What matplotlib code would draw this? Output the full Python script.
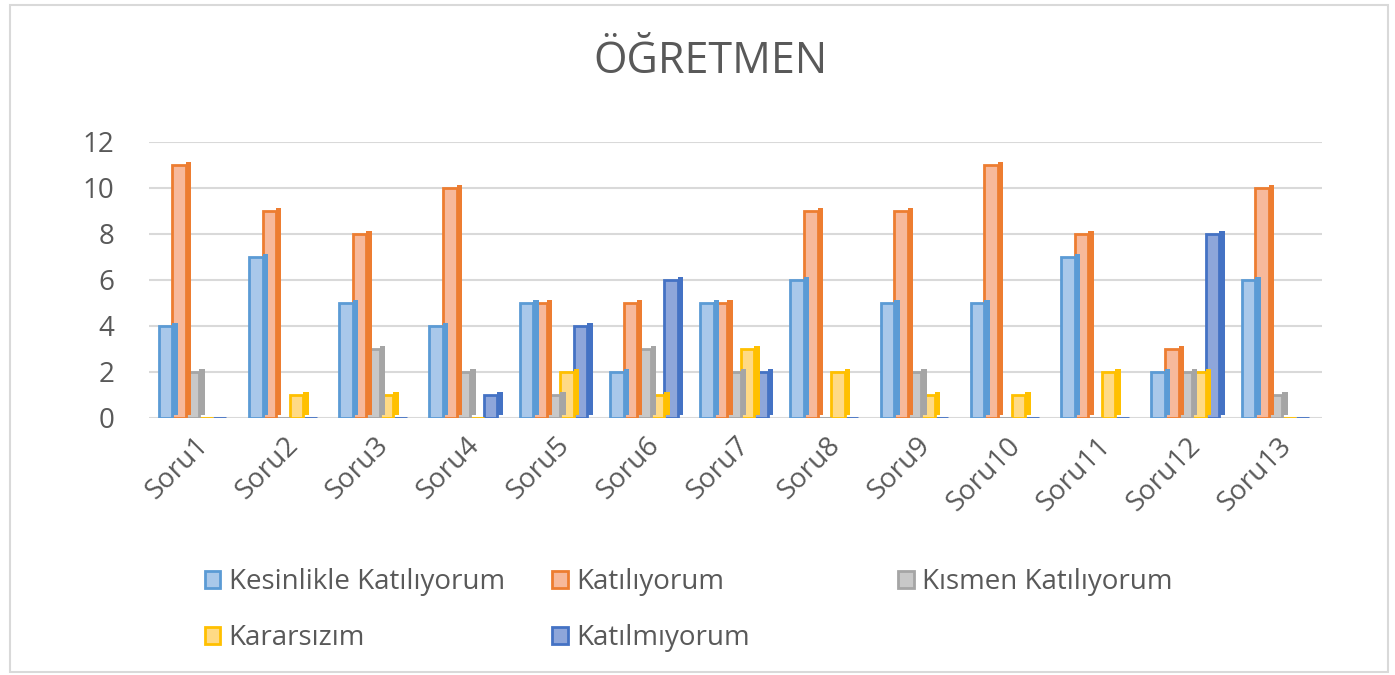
import matplotlib
matplotlib.use("Agg")
import matplotlib.pyplot as plt
from matplotlib.patches import Patch, Rectangle
import numpy as np

plt.rcParams['font.family'] = ['Open Sans', 'DejaVu Sans']

# data
questions = ["Soru1", "Soru2", "Soru3", "Soru4", "Soru5", "Soru6", "Soru7",
             "Soru8", "Soru9", "Soru10", "Soru11", "Soru12", "Soru13"]
series_names = ["Kesinlikle Katılıyorum", "Katılıyorum", "Kısmen Katılıyorum",
                "Kararsızım", "Katılmıyorum"]
kesinlikle = [4, 7, 5, 4, 5, 2, 5, 6, 5, 5, 7, 2, 6]
katiliyorum = [11, 9, 8, 10, 5, 5, 5, 9, 9, 11, 8, 3, 10]
kismen = [2, 0, 3, 2, 1, 3, 2, 0, 2, 0, 0, 2, 1]
kararsizim = [0, 1, 1, 0, 2, 1, 3, 2, 1, 1, 2, 2, 0]
katilmiyorum = [0, 0, 0, 1, 4, 6, 2, 0, 0, 0, 0, 8, 0]
all_series = [kesinlikle, katiliyorum, kismen, kararsizim, katilmiyorum]

face_colors = ["#A9C8EA", "#F7B99B", "#C8C8C8", "#FFDA85", "#8EA6DA"]
edge_colors = ["#5B9BD5", "#ED7D31", "#A5A5A5", "#FFC000", "#4472C4"]
text_col = "#595959"

fig = plt.figure(figsize=(13.95, 6.75), dpi=100)
fig.patches.append(Rectangle((0.007, 0.005), 0.988, 0.988, transform=fig.transFigure,
                             fill=False, edgecolor="#D9D9D9", linewidth=1.5))
ax = fig.add_axes([0.107, 0.381, 0.841, 0.409])

x = np.arange(len(questions))
w = 0.15
depth = 0.06
for i, vals in enumerate(all_series):
    pos = x - 2 * w + i * w - 0.02
    z = 20 - i * 2
    # right side (depth) of the bar
    ax.bar(pos + w / 2 + depth / 2, vals, width=depth, bottom=0.12,
           color=edge_colors[i], zorder=z)
    # front face
    ax.bar(pos, vals, width=w, color=face_colors[i], edgecolor=edge_colors[i],
           linewidth=2, zorder=z + 1)

ax.set_xlim(-0.5, 12.5)
ax.set_ylim(0, 12)
ax.set_yticks(range(0, 13, 2))
ax.yaxis.grid(True, color="#D9D9D9", linewidth=1.5)
ax.set_axisbelow(True)
for s in ax.spines.values():
    s.set_visible(False)
ax.tick_params(length=0, colors=text_col, labelsize=20)
ax.tick_params(axis='y', pad=25)
ax.set_xticks(x)
ax.set_xticklabels(questions, rotation=45, ha='right', rotation_mode='anchor')
ax.tick_params(axis='x', pad=10)

fig.text(0.509, 0.909, "ÖĞRETMEN", ha='center', va='center', fontsize=31, color=text_col)

handles = [Patch(facecolor=face_colors[i], edgecolor=edge_colors[i], linewidth=2)
           for i in range(5)]
columns = [([0, 3], 0.147), ([1, 4], 0.396), ([2], 0.644)]
for idx, xpos in columns:
    leg = fig.legend([handles[k] for k in idx], [series_names[k] for k in idx],
                     loc='upper left', bbox_to_anchor=(xpos, 0.158),
                     bbox_transform=fig.transFigure, frameon=False, fontsize=20,
                     handlelength=0.55, handleheight=0.55, handletextpad=0.3,
                     labelspacing=1.0, borderpad=0, borderaxespad=0)
    for t in leg.get_texts():
        t.set_color(text_col)

fig.savefig("out.png", dpi=100)
